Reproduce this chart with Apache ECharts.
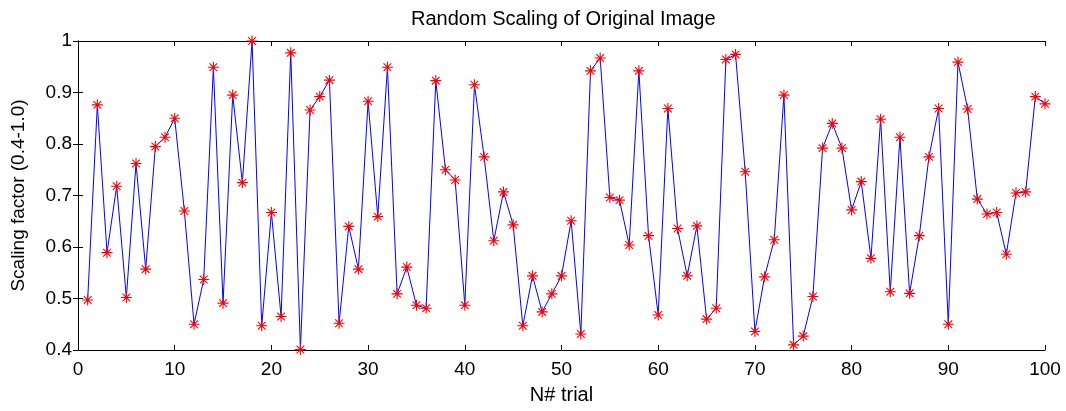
<!DOCTYPE html>
<html>
<head>
<meta charset="utf-8">
<script src="https://cdn.jsdelivr.net/npm/echarts@6/dist/echarts.min.js"></script>
<style>
html,body{margin:0;padding:0;background:#fff;}
#chart{width:1066px;height:411px;}
</style>
</head>
<body>
<div id="chart"></div>
<script>
var titleText = 'Random Scaling of Original Image';
var xName = 'N# trial';
var yName = 'Scaling factor (0.4-1.0)';
var trials = [];
for (var i = 1; i <= 100; i++) trials.push(i);
var values = [
  0.497, 0.876, 0.589, 0.718, 0.502, 0.762, 0.557, 0.795, 0.813, 0.850,
  0.670, 0.450, 0.537, 0.949, 0.491, 0.895, 0.725, 1.000, 0.447, 0.667,
  0.465, 0.977, 0.401, 0.866, 0.892, 0.924, 0.452, 0.640, 0.557, 0.883,
  0.659, 0.949, 0.509, 0.561, 0.487, 0.481, 0.923, 0.750, 0.730, 0.487,
  0.915, 0.775, 0.612, 0.707, 0.643, 0.447, 0.544, 0.474, 0.509, 0.544,
  0.651, 0.431, 0.942, 0.967, 0.696, 0.691, 0.604, 0.942, 0.622, 0.468,
  0.869, 0.636, 0.544, 0.641, 0.460, 0.481, 0.964, 0.974, 0.746, 0.436,
  0.542, 0.614, 0.895, 0.410, 0.427, 0.504, 0.792, 0.840, 0.792, 0.672,
  0.727, 0.578, 0.848, 0.513, 0.813, 0.510, 0.622, 0.775, 0.869, 0.450,
  0.959, 0.868, 0.693, 0.664, 0.667, 0.586, 0.705, 0.707, 0.892, 0.878
];
var xMin = 0, xMax = 100, xStep = 10;
var yMin = 0.4, yMax = 1.0, yStep = 0.1;

var data = trials.map(function (t, i) { return [t, values[i]]; });

var star = 'path://M0 45H100V55H0Z M45 0H55V100H45Z M11.5 18.5L18.5 11.5L88.5 81.5L81.5 88.5Z M81.5 11.5L88.5 18.5L18.5 88.5L11.5 81.5Z';
var font = 'Liberation Sans';
var axisLine = { show: true, lineStyle: { color: '#000', width: 1 } };
var tick = { show: true, inside: true, length: 5, lineStyle: { color: '#000' } };

var chart = echarts.init(document.getElementById('chart'));
chart.setOption({
  animation: false,
  backgroundColor: '#fff',
  title: {
    text: titleText, left: 406, top: 4,
    textStyle: { fontFamily: font, fontSize: 20, fontWeight: 'normal', color: '#000' }
  },
  grid: { left: 78, right: 21, top: 41, bottom: 61 },
  xAxis: [{
    type: 'value', min: xMin, max: xMax, interval: xStep, position: 'bottom',
    name: xName, nameLocation: 'middle', nameGap: 35,
    nameTextStyle: { fontFamily: font, fontSize: 20, color: '#000' },
    axisLine: axisLine, axisTick: tick, splitLine: { show: false },
    axisLabel: { fontFamily: font, fontSize: 19, color: '#000', margin: 10 }
  }, {
    type: 'value', min: xMin, max: xMax, interval: xStep, position: 'top',
    axisLine: axisLine, axisTick: tick, splitLine: { show: false },
    axisLabel: { show: false }
  }],
  yAxis: [{
    type: 'value', min: yMin, max: yMax, interval: yStep, position: 'left',
    name: yName, nameLocation: 'middle', nameGap: 50, nameRotate: 90,
    nameTextStyle: { fontFamily: font, fontSize: 19, color: '#000' },
    axisLine: axisLine, axisTick: tick, splitLine: { show: false },
    axisLabel: { fontFamily: font, fontSize: 19, color: '#000', margin: 6,
      formatter: function (v) { return String(Math.round(v * 10) / 10); } }
  }, {
    type: 'value', min: yMin, max: yMax, interval: yStep, position: 'right',
    axisLine: axisLine, axisTick: tick, splitLine: { show: false },
    axisLabel: { show: false }
  }],
  series: [{
    type: 'line', xAxisIndex: 0, yAxisIndex: 0, data: data,
    lineStyle: { color: '#0000ff', width: 1 },
    symbol: star, symbolSize: 11, showSymbol: true,
    itemStyle: { color: '#ff0000' },
    z: 3
  }]
});
</script>
</body>
</html>
